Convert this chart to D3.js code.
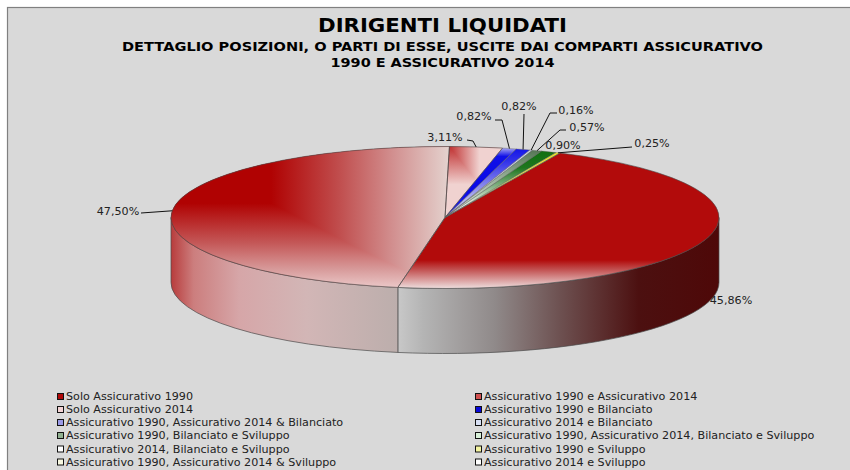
<!DOCTYPE html>
<html><head><meta charset="utf-8">
<script src="https://cdn.jsdelivr.net/npm/d3@7"></script>
<style>html,body{margin:0;padding:0;background:#fff}svg{display:block}text{font-family:"DejaVu Sans",sans-serif}</style>
</head><body><div id="c"></div>
<script>
const categories=["Solo Assicurativo 1990","Assicurativo 1990 e Assicurativo 2014","Solo Assicurativo 2014","Assicurativo 1990 e Bilanciato","Assicurativo 1990, Assicurativo 2014 & Bilanciato","Assicurativo 2014 e Bilanciato","Assicurativo 1990, Bilanciato e Sviluppo","Assicurativo 1990, Assicurativo 2014, Bilanciato e Sviluppo","Assicurativo 2014, Bilanciato e Sviluppo","Assicurativo 1990 e Sviluppo","Assicurativo 1990, Assicurativo 2014 & Sviluppo","Assicurativo 2014 e Sviluppo"];
const values=[45.86,47.50,3.11,0.82,0.82,0.16,0.57,0.90,0,0.25,0,0];
const valueLabels=["45,86%","47,50%","3,11%","0,82%","0,82%","0,16%","0,57%","0,90%","","0,25%","",""];
const legendFills=["#b00808","#d05050","#f4d4d4","#0808d8","#9a9ae8","#d8e0f4","#90b090","#d8f0d8","#ffffff","#f4f4a0","#f8f8e0","#ffffff"];
const topStops=[
 [["#b20b0b",0],["#b20b0b",0.8],["#c04a4a",0.86],["#eedede",1]],
 null,null,
 [["#a8a8f0",0.02],["#1010e8",0.14],["#0808e8",0.6],["#3030d8",1]],
 [["#1010e8",0],["#3030e8",0.2],["#b8b8f0",0.75],["#a0a0e0",1]],
 [["#c8d4f0",0],["#f0f2fa",1]],
 [["#4d6f4d",0],["#a0b8a0",0.5],["#e8f0e8",1]],
 [["#0e6e0e",0.03],["#1e761e",0.3],["#a8c8a8",0.65],["#ffffff",0.9]],
 null,
 [["#e8e020",0],["#f0ec60",0.5],["#ffffff",1]],
 null,null];
const wallStops=[
 [["#c8c8c8",0],["#b4b4b4",0.08],["#908a8a",0.3],["#6e5252",0.5],["#4c1010",0.75],["#4e0808",1]],
 [["#b83c3c",0],["#cc7e7e",0.1],["#d6a6a8",0.3],["#d2b6b6",0.6],["#bcaeac",1]]];

const W=850,H=470,cx=445,cy=217.5,rx=274,ry=71,depth=65;
const startDeg=24.8;
const svg=d3.select("#c").append("svg").attr("width",W).attr("height",H);
const defs=svg.append("defs");
svg.append("rect").attr("width",W).attr("height",H).attr("fill","#fff");
svg.append("rect").attr("x",7.5).attr("y",7.5).attr("width",W).attr("height",H).attr("fill","#d9d9d9").attr("stroke","#808080").attr("stroke-width",1.2);

const pt=(a,dy=0)=>[cx+rx*Math.sin(a),cy-ry*Math.cos(a)+dy];
const arcs=d3.pie().sort(null).startAngle(startDeg*Math.PI/180).endAngle((startDeg+360)*Math.PI/180)(values);
const wedge=(a0,a1)=>{const s=pt(a0),e=pt(a1);
  return `M${cx},${cy}L${s}A${rx},${ry} 0 ${a1-a0>Math.PI?1:0} 1 ${e}Z`;};
const wall=(a0,a1)=>{const s=pt(a0),e=pt(a1),e2=pt(a1,depth),s2=pt(a0,depth);
  return `M${s}A${rx},${ry} 0 0 1 ${e}L${e2}A${rx},${ry} 0 0 0 ${s2}Z`;};
function grad(id,x1,y1,x2,y2,stops){const g=defs.append("linearGradient").attr("id",id).attr("gradientUnits","userSpaceOnUse")
  .attr("x1",x1).attr("y1",y1).attr("x2",x2).attr("y2",y2);
  stops.forEach(s=>g.append("stop").attr("offset",s[1]).attr("stop-color",s[0]));return `url(#${id})`;}
const edge="#4a4a4a";

const cut=arcs[0].endAngle;
const wallFill0=grad("w0",pt(cut)[0],0,cx+rx,0,wallStops[0]);
const wallFill1=grad("w1",cx-rx,0,pt(cut)[0],0,wallStops[1]);
svg.append("path").attr("d",wall(Math.PI/2,cut)).attr("fill",wallFill0).attr("stroke",edge).attr("stroke-width",.7);
svg.append("path").attr("d",wall(cut,1.5*Math.PI)).attr("fill",wallFill1).attr("stroke",edge).attr("stroke-width",.7);

const gTop=svg.append("g").style("isolation","isolate");
const vTop=cy-ry, vBot=cy+ry;
arcs.forEach((d,i)=>{
  if(d.value===0) return;
  const path=wedge(d.startAngle,d.endAngle);
  if(i===1){
    const h=grad("h1",cx-rx,0,cx+4,0,[["#b00202",0],["#b00202",0.36],["#c04c4c",0.6],["#d29090",0.8],["#e4d2ce",1]]);
    const v=grad("v1",0,vTop,0,vBot,[["#b00202",0],["#b00202",0.4],["#c45858",0.68],["#d89c9c",0.87],["#eccaca",1]]);
    gTop.append("path").attr("d",path).attr("fill",h);
    gTop.append("path").attr("d",path).attr("fill",v).style("mix-blend-mode","lighten");
  } else if(i===2){
    const s=pt(d.startAngle);
    const h=grad("h2",s[0],0,s[0]+30,0,[["#c03030",0],["#f0d2d0",1]]);
    const v=grad("v2",0,vTop,0,vTop+38,[["#c03030",0],["#f0d2d0",1]]);
    gTop.append("path").attr("d",path).attr("fill",h);
    gTop.append("path").attr("d",path).attr("fill",v).style("mix-blend-mode","lighten");
  } else {
    gTop.append("path").attr("d",path).attr("fill",grad("t"+i,0,vTop,0,i===0?vBot:cy,topStops[i]));
  }
});
arcs.forEach((d,i)=>{ if(d.value===0) return;
  gTop.append("path").attr("d",wedge(d.startAngle,d.endAngle)).attr("fill","none").attr("stroke",i>2?"#5a5a5a":edge).attr("stroke-width",i>2?.35:.6).attr("stroke-linejoin","round");
});

const labelLayout={0:{x:731,y:300},1:{x:118,y:211,line:[[141,213]]},2:{x:445,y:137,line:[[467,140],[473,141]]},
 3:{x:474,y:116,line:[[495,120],[502,120]]},4:{x:519,y:106,line:[[524,114]]},5:{x:576,y:110,line:[[557,113],[550,113]]},
 6:{x:587,y:127,line:[[566,130],[560,130]]},7:{x:563,y:145},9:{x:652,y:143,line:[[632,147]]}};
const gL=svg.append("g");
arcs.forEach((d,i)=>{const l=labelLayout[i]; if(!l||!l.line) return;
  const m=pt((d.startAngle+d.endAngle)/2);
  gL.append("path").attr("d",d3.line()([...l.line,m])).attr("fill","none").attr("stroke","#111").attr("stroke-width",1);
});
arcs.forEach((d,i)=>{const l=labelLayout[i]; if(!l) return;
  gL.append("text").attr("x",l.x).attr("y",l.y).attr("text-anchor","middle").attr("dominant-baseline","central").attr("font-size",11.15).attr("fill","#222").text(valueLabels[i]);
});

const titles=[["DIRIGENTI LIQUIDATI",442.5,32,19,249],["DETTAGLIO POSIZIONI, O PARTI DI ESSE, USCITE DAI COMPARTI ASSICURATIVO",442.5,50.5,12.8,641],["1990 E ASSICURATIVO 2014",442.5,67,12.8,224]];
titles.forEach(t=>svg.append("text").attr("x",t[1]).attr("y",t[2]).attr("text-anchor","middle").attr("font-size",t[3]).attr("font-weight","bold").attr("fill","#000")
  .attr("textLength",t[4]).attr("lengthAdjust","spacingAndGlyphs").text(t[0]));

const rowY=[396.5,409.5,422.5,435.5,449,462];
const colX=[57,475];
const leg=svg.append("g").selectAll("g").data(categories).join("g")
  .attr("transform",(d,i)=>`translate(${colX[i%2]},${rowY[Math.floor(i/2)]})`);
leg.append("rect").attr("x",.5).attr("y",-3).attr("width",6).attr("height",6).attr("fill",(d,i)=>legendFills[i]).attr("stroke","#111").attr("stroke-width",1);
leg.append("text").attr("x",9).attr("y",0).attr("dominant-baseline","central").attr("font-size",11.15).attr("fill","#222").text(d=>d);
</script></body></html>
